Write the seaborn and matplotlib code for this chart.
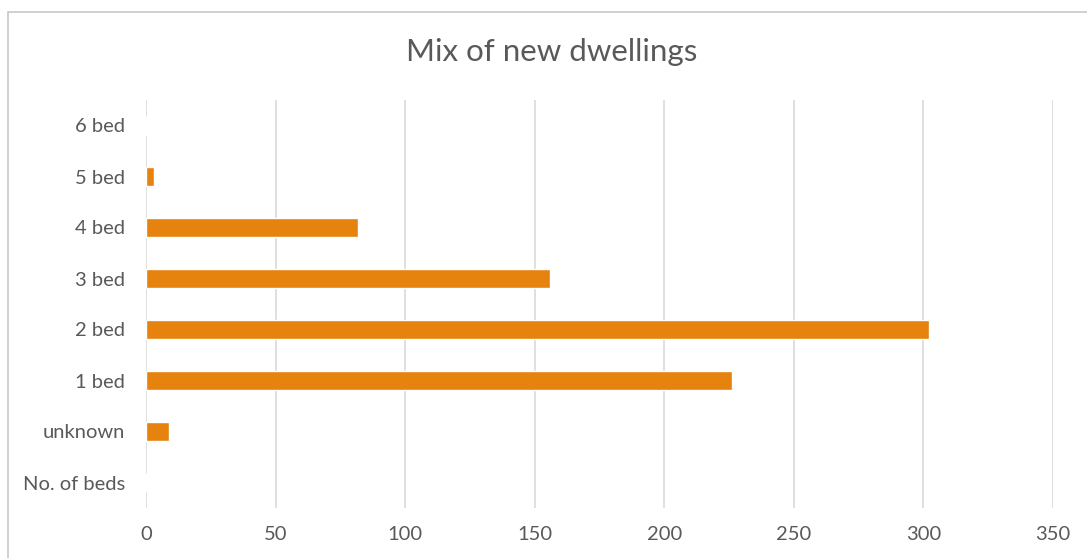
import matplotlib
matplotlib.use("Agg")
import matplotlib.pyplot as plt
import pandas as pd
import seaborn as sns

categories = ["6 bed", "5 bed", "4 bed", "3 bed", "2 bed", "1 bed", "unknown", "No. of beds"]
dwellings = [0, 3, 82, 156, 302, 226, 9, 0]
x_ticks = [0, 50, 100, 150, 200, 250, 300, 350]

df = pd.DataFrame({"category": categories, "count": dwellings})

sns.set_theme(style="white")
plt.rcParams["font.family"] = ["Lato", "DejaVu Sans"]

text_color = "#595959"
grid_color = "#D9D9D9"
bar_color = "#E6820E"

fig = plt.figure(figsize=(10.87, 5.58), dpi=100)
ax = fig.add_axes([146 / 1087, 1 - 508 / 558, (1053 - 146) / 1087, (508 - 100) / 558])

sns.barplot(data=df, y="category", x="count", orient="h", order=categories,
            color=bar_color, width=0.36, saturation=1, ax=ax)

ax.set_xlim(0, 350)
ax.set_ylim(len(categories) - 0.5, -0.5)
ax.set_xticks(x_ticks)
ax.set_xticklabels([str(t) for t in x_ticks])
ax.xaxis.grid(True, color=grid_color, linewidth=1.2)
ax.set_axisbelow(True)
for s in ax.spines.values():
    s.set_visible(False)
ax.set_xlabel("")
ax.set_ylabel("")
ax.tick_params(axis="both", length=0, labelsize=14.5, colors=text_color)
ax.tick_params(axis="x", pad=13)
ax.tick_params(axis="y", pad=15)

fig.text(552 / 1087, 1 - 52 / 558, "Mix of new dwellings", ha="center", va="center",
         fontsize=22.5, color=text_color)

# outer chart frame
frame = plt.Rectangle((8 / 1087, -0.02), 1.1, 1 - 12 / 558 + 0.02, transform=fig.transFigure,
                      fill=False, edgecolor="#C8C8C8", linewidth=1.2)
fig.add_artist(frame)

fig.savefig("out.png", dpi=100, facecolor="white")
